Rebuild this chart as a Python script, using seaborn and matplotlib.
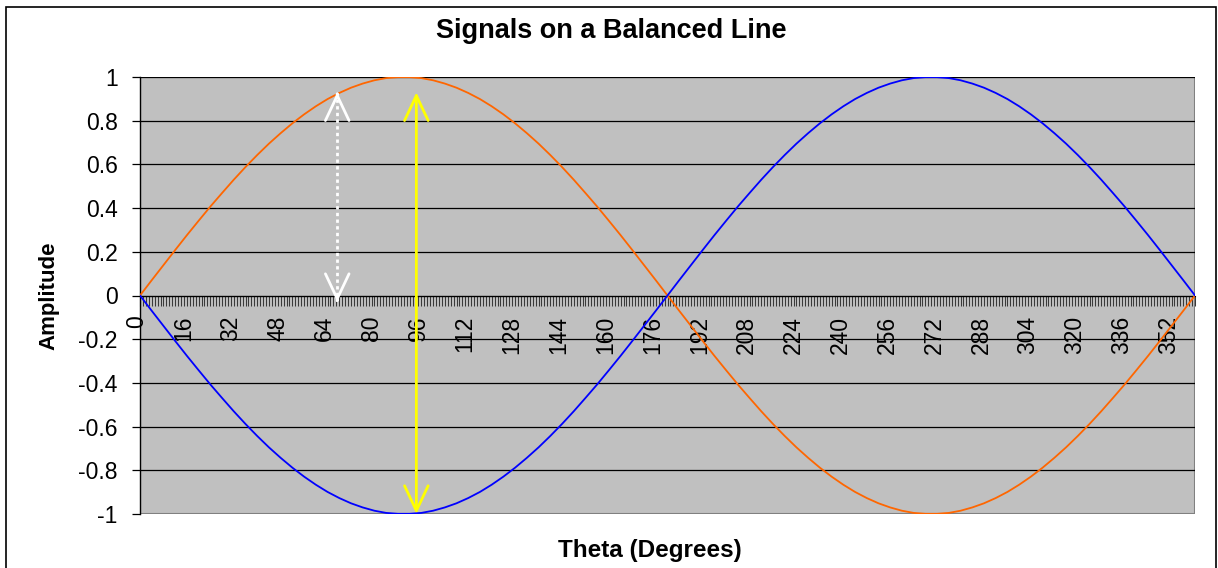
import numpy as np
import pandas as pd
import matplotlib
matplotlib.use("Agg")
import matplotlib.pyplot as plt
import matplotlib.transforms as mtransforms
import seaborn as sns
from matplotlib.patches import Rectangle
from matplotlib.ticker import FixedLocator, MultipleLocator

# category axis (degrees) and the two signals
theta = list(range(0, 361, 4))
signal_a = [0.000, 0.070, 0.139, 0.208, 0.276, 0.342, 0.407, 0.469, 0.530, 0.588,
            0.643, 0.695, 0.743, 0.788, 0.829, 0.866, 0.899, 0.927, 0.951, 0.970,
            0.985, 0.995, 0.999, 0.999, 0.995, 0.985, 0.970, 0.951, 0.927, 0.899,
            0.866, 0.829, 0.788, 0.743, 0.695, 0.643, 0.588, 0.530, 0.469, 0.407,
            0.342, 0.276, 0.208, 0.139, 0.070, 0.000,
            -0.070, -0.139, -0.208, -0.276, -0.342, -0.407, -0.469, -0.530, -0.588,
            -0.643, -0.695, -0.743, -0.788, -0.829, -0.866, -0.899, -0.927, -0.951,
            -0.970, -0.985, -0.995, -0.999, -0.999, -0.995, -0.985, -0.970, -0.951,
            -0.927, -0.899, -0.866, -0.829, -0.788, -0.743, -0.695, -0.643, -0.588,
            -0.530, -0.469, -0.407, -0.342, -0.276, -0.208, -0.139, -0.070, 0.000]
signal_b = [0.000, -0.070, -0.139, -0.208, -0.276, -0.342, -0.407, -0.469, -0.530, -0.588,
            -0.643, -0.695, -0.743, -0.788, -0.829, -0.866, -0.899, -0.927, -0.951, -0.970,
            -0.985, -0.995, -0.999, -0.999, -0.995, -0.985, -0.970, -0.951, -0.927, -0.899,
            -0.866, -0.829, -0.788, -0.743, -0.695, -0.643, -0.588, -0.530, -0.469, -0.407,
            -0.342, -0.276, -0.208, -0.139, -0.070, 0.000,
            0.070, 0.139, 0.208, 0.276, 0.342, 0.407, 0.469, 0.530, 0.588,
            0.643, 0.695, 0.743, 0.788, 0.829, 0.866, 0.899, 0.927, 0.951,
            0.970, 0.985, 0.995, 0.999, 0.999, 0.995, 0.985, 0.970, 0.951,
            0.927, 0.899, 0.866, 0.829, 0.788, 0.743, 0.695, 0.643, 0.588,
            0.530, 0.469, 0.407, 0.342, 0.276, 0.208, 0.139, 0.070, 0.000]

x_labels = [0, 16, 32, 48, 64, 80, 96, 112, 128, 144, 160, 176, 192,
            208, 224, 240, 256, 272, 288, 304, 320, 336, 352]
y_ticks = [1, 0.8, 0.6, 0.4, 0.2, 0, -0.2, -0.4, -0.6, -0.8, -1]
y_labels = ["1", "0.8", "0.6", "0.4", "0.2", "0", "-0.2", "-0.4", "-0.6", "-0.8", "-1"]

# annotation arrows: (theta, y_from, y_to)
white_arrow = (67.3, 0.93, -0.03)
yellow_arrow = (94.3, 0.93, -1.0)

df = pd.DataFrame({"theta": theta, "a": signal_a, "b": signal_b})

sns.set_style("white")
plt.rcParams["font.family"] = ["Liberation Sans", "DejaVu Sans"]
plt.rcParams["text.color"] = "black"
plt.rcParams["axes.labelcolor"] = "black"
plt.rcParams["xtick.color"] = "black"
plt.rcParams["ytick.color"] = "black"

fig = plt.figure(figsize=(12.18, 5.68), dpi=100)
ax = fig.add_axes([140 / 1218, 1 - 514 / 568, 1055 / 1218, 437 / 568])
ax.set_facecolor("#C0C0C0")

# outer chart border
fig.patches.append(Rectangle((6 / 1218, -0.1), 1210 / 1218, 1.1 - 7 / 568,
                             transform=fig.transFigure, fill=False,
                             edgecolor="black", linewidth=1.2))

sns.lineplot(data=df, x="theta", y="a", color="#FF6600", linewidth=1.3, ax=ax, zorder=4)
sns.lineplot(data=df, x="theta", y="b", color="#0000FF", linewidth=1.3, ax=ax, zorder=4)

ax.set_xlim(0, 360)
ax.set_ylim(-1, 1)

# gridlines
for v in y_ticks[:-1]:
    ax.axhline(v, color="black", linewidth=0.9, zorder=1)

# spines
for s in ["top", "right"]:
    ax.spines[s].set_visible(False)
ax.spines["left"].set_color("black")
ax.spines["left"].set_linewidth(1.0)
ax.spines["bottom"].set_position(("data", 0))
ax.spines["bottom"].set_color("black")
ax.add_patch(Rectangle((0, 0), 1, 1, transform=ax.transAxes, fill=False,
                       edgecolor="#808080", linewidth=1.5, zorder=0.5))

ax.set_yticks(y_ticks)
ax.set_yticklabels(y_labels, fontsize=16.5)
ax.tick_params(axis="y", left=True, direction="out", length=6, width=0.9,
               color="black", pad=10)

ax.xaxis.set_major_locator(FixedLocator(x_labels))
ax.set_xticklabels([str(v) for v in x_labels], rotation=90, fontsize=16.5)
ax.xaxis.set_minor_locator(MultipleLocator(1))
ax.tick_params(axis="x", which="both", bottom=True, direction="out", length=7,
               width=0.75, color="#3a3a3a")
ax.tick_params(axis="x", which="major", pad=7.5)
shift = mtransforms.ScaledTranslation(-3 / 100, 0, fig.dpi_scale_trans)
for lbl in ax.get_xticklabels():
    lbl.set_transform(lbl.get_transform() + shift)

ax.set_xlabel("Theta (Degrees)", fontsize=17.5, fontweight="bold")
ax.xaxis.set_label_coords(0.483, -0.057)
ax.set_ylabel("Amplitude", fontsize=16, fontweight="bold")
ax.yaxis.set_label_coords(-0.076, 0.5)
fig.text(611 / 1218, 1 - 31 / 568, "Signals on a Balanced Line", fontsize=19.5,
         fontweight="bold", ha="center", va="center")

# white dotted double arrow
wx, wy0, wy1 = white_arrow
ax.plot([wx, wx], [wy0 - 0.03, wy1 + 0.03], color="white", linewidth=2,
        linestyle=(0, (1.2, 1.2)), zorder=5)
for tip, base in [(wy0, wy0 - 0.01), (wy1, wy1 + 0.01)]:
    ax.annotate("", xy=(wx, tip), xytext=(wx, base),
                arrowprops=dict(arrowstyle="->,head_length=1.8,head_width=0.85",
                                color="white", linewidth=2, shrinkA=0, shrinkB=0,
                                mutation_scale=10), zorder=5)

# yellow double arrow
yx, yy0, yy1 = yellow_arrow
ax.annotate("", xy=(yx, yy0), xytext=(yx, yy1),
            arrowprops=dict(arrowstyle="<->,head_length=1.8,head_width=0.85",
                            color="#FFFF00", linewidth=2, shrinkA=0, shrinkB=0,
                            mutation_scale=10), zorder=5)

fig.savefig("out.png", dpi=100)
